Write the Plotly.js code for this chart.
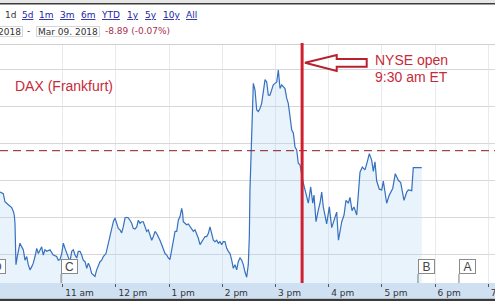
<!DOCTYPE html>
<html><head><meta charset="utf-8">
<script src="https://cdn.plot.ly/plotly-3.0.1.min.js"></script>
<style>html,body{margin:0;padding:0;background:#fff;overflow:hidden}#chart{width:495px;height:301px}</style>
</head><body><div id="chart"></div>
<script>
// ---- data (minutes after midnight CET, index points) ----
const minutes = [585.9,589.3,593.0,594.9,598.7,602.5,604.3,605.4,606.2,607.3,608.8,609.9,611.8,613.8,615.6,617.5,619.4,621.2,623.1,625.0,626.8,628.8,630.7,632.5,634.4,636.3,638.1,640.0,642.0,645.7,649.4,653.2,655.0,657.0,658.9,660.7,662.6,664.5,666.3,668.2,670.2,672.0,673.9,675.8,677.6,679.5,681.4,683.2,685.2,687.1,688.9,690.8,692.7,694.5,696.4,698.3,700.2,702.1,704.0,705.8,708.8,711.4,713.3,715.3,717.1,719.0,720.9,722.7,724.6,726.5,728.3,730.3,732.2,734.0,735.9,737.8,739.6,741.5,743.5,745.3,747.2,749.1,750.9,752.8,754.7,756.5,758.5,760.4,762.2,764.1,766.0,767.8,769.7,771.7,773.5,775.4,777.3,779.1,781.0,782.9,784.7,786.7,788.6,790.4,792.3,794.2,795.3,796.0,797.9,799.8,801.7,803.6,805.5,807.3,809.2,811.1,812.9,814.9,816.8,818.6,820.5,822.4,824.2,826.1,828.0,829.9,831.8,833.7,835.5,837.4,839.3,841.1,843.0,845.0,846.8,848.7,850.6,852.4,854.3,856.2,858.0,860.0,861.9,863.7,865.6,867.5,869.3,870.5,871.2,872.4,873.8,875.0,876.9,878.8,880.6,882.5,884.4,886.2,888.2,890.1,891.9,893.8,895.7,897.5,899.4,901.4,903.2,905.1,907.0,908.8,910.7,912.6,914.4,916.4,918.3,920.1,922.0,923.9,925.7,927.6,929.5,931.4,933.3,935.2,937.0,939.7,942.0,943.4,945.7,948.3,950.2,952.1,953.9,957.7,960.7,963.4,967.1,969.0,971.0,974.7,977.3,979.5,982.1,984.0,986.3,988.5,991.6,995.3,997.9,1000.9,1003.5,1005.8,1008.5,1010.3,1012.2,1014.1,1017.1,1019.8,1021.6,1025.4,1028.3,1032.2,1035.1,1038.5,1041.2,1044.9,1048.0,1049.8,1053.6,1055.4,1064.9];
const prices = [12287,12284,12282,12271,12267,12263,12258,12253,12242,12186,12197,12206,12215,12210,12206,12192,12197,12186,12179,12183,12188,12197,12208,12201,12206,12210,12199,12206,12204,12206,12199,12197,12192,12193,12201,12215,12208,12201,12195,12190,12204,12206,12199,12195,12204,12204,12199,12192,12190,12181,12188,12183,12174,12172,12170,12179,12186,12190,12192,12197,12201,12215,12224,12233,12244,12249,12240,12235,12233,12229,12237,12249,12250,12249,12246,12242,12235,12234,12237,12246,12242,12244,12244,12237,12231,12233,12226,12219,12224,12231,12228,12224,12219,12213,12206,12201,12199,12195,12193,12206,12219,12231,12231,12246,12251,12262,12255,12244,12242,12240,12241,12237,12235,12231,12233,12228,12222,12213,12217,12219,12224,12224,12228,12237,12226,12219,12217,12219,12215,12217,12213,12217,12217,12208,12204,12201,12192,12181,12186,12179,12190,12195,12192,12186,12176,12169,12186,12224,12287,12341,12399,12431,12422,12395,12393,12397,12404,12422,12436,12433,12415,12415,12422,12429,12431,12433,12449,12424,12429,12426,12424,12411,12404,12386,12368,12364,12345,12341,12323,12321,12306,12296,12287,12278,12269,12291,12269,12280,12244,12260,12269,12284,12264,12241,12264,12236,12249,12257,12219,12244,12253,12273,12269,12277,12259,12264,12253,12311,12318,12314,12325,12336,12327,12312,12325,12299,12288,12287,12299,12269,12280,12289,12309,12300,12297,12273,12284,12287,12286,12317,12317];
const prevClose = 12340;
const nyseOpenMinute = 930;
const hourTicks = [660,720,780,840,900,960,1020,1080,1140];
const hourLabels = ['11 am','12 pm','1 pm','2 pm','3 pm','4 pm','5 pm','6 pm','7 pm'];
const priceGrid = [12200,12250,12300,12350,12400,12450];
const flagMinutes = [576.5,658.2,1060.7,1106.9];
const flagLetters = ['D','C','B','A'];
const rangeLinks = ['1d','5d','1m','3m','6m','YTD','1y','5y','10y','All'];
const dateFrom = '2018';
const dateTo = 'Mar 09, 2018';
const changeText = '-8.89 (-0.07%)';
const seriesLabel = 'DAX (Frankfurt)';
const noteLines = ['NYSE open','9:30 am ET'];

// ---- layout helpers ----
const W = 495, H = 301, TOP = 44, BOTTOM = 283;
const px = x => x / W;
const py = y => (BOTTOM - y) / (BOTTOM - TOP);
const xRange = [589.29, 1147.55];
const yRange = [12161.2, 12484.2];
const red = '#c62b3a';
const verd = 'DejaVu Sans';
const arial = 'Liberation Sans, Arial, sans-serif';

const annotations = [];
const linkLeft = [2.5,19.7,37.3,58.3,79,99,125,143.3,161.3,184];
rangeLinks.forEach((t,i) => {
  annotations.push({
    text: i === 0 ? t : '<span style="text-decoration:underline">' + t + '</span>',
    xref:'paper', yref:'paper', x:px(linkLeft[i]), y:py(15.5), xanchor:'left', yanchor:'middle',
    showarrow:false, font:{family:verd, size:9, color: i === 0 ? '#333' : '#2323a8'}
  });
});
annotations.push({text:dateFrom, xref:'paper', yref:'paper', x:px(22.7), y:py(31.5), xanchor:'right', yanchor:'middle',
  showarrow:false, bordercolor:'#d6d6d6', borderwidth:1, borderpad:1, bgcolor:'#fff', height:7,
  font:{family:verd, size:9, color:'#333'}});
annotations.push({text:'-', xref:'paper', yref:'paper', x:px(28.5), y:py(31.5), xanchor:'center', yanchor:'middle',
  showarrow:false, font:{family:verd, size:9, color:'#333'}});
annotations.push({text:dateTo, xref:'paper', yref:'paper', x:px(35.7), y:py(31.5), xanchor:'left', yanchor:'middle',
  showarrow:false, bordercolor:'#d6d6d6', borderwidth:1, borderpad:1, bgcolor:'#fff', height:7, width:60,
  font:{family:verd, size:9, color:'#333'}});
annotations.push({text:changeText, xref:'paper', yref:'paper', x:px(102.5), y:py(31.5), xanchor:'left', yanchor:'middle',
  showarrow:false, font:{family:verd, size:9, color:'#a8324e'}});
annotations.push({text:seriesLabel, xref:'paper', yref:'paper', x:px(12.5), y:py(86), xanchor:'left', yanchor:'middle',
  showarrow:false, font:{family:arial, size:14, color:red}});
annotations.push({text:noteLines[0], xref:'paper', yref:'paper', x:px(372.5), y:py(60), xanchor:'left', yanchor:'middle',
  showarrow:false, font:{family:arial, size:14, color:red}});
annotations.push({text:noteLines[1], xref:'paper', yref:'paper', x:px(372.5), y:py(77), xanchor:'left', yanchor:'middle',
  showarrow:false, font:{family:arial, size:14, color:red}});
flagMinutes.forEach((m,i) => {
  annotations.push({text:flagLetters[i], xref:'paper', yref:'paper',
    x:(m - xRange[0]) / (xRange[1] - xRange[0]), y:py(266.5), xanchor:'left', yanchor:'middle',
    showarrow:false, width:13, height:11, borderpad:1, borderwidth:1, bordercolor:'#8a8a8a', bgcolor:'#fff',
    font:{family:arial, size:12, color:'#444'}});
});

const shapes = [
  {type:'rect', xref:'paper', yref:'paper', x0:0, x1:1, y0:py(0), y1:py(3), fillcolor:'#e6e6e6', line:{width:0}},
  {type:'line', xref:'paper', yref:'paper', x0:0, x1:1, y0:py(3.7), y1:py(3.7), line:{color:'#3c3c3c', width:1.5}},
  {type:'line', xref:'paper', yref:'paper', x0:0, x1:1, y0:py(44.5), y1:py(44.5), line:{color:'#d0d0d0', width:1}},
  {type:'rect', xref:'paper', yref:'paper', x0:0, x1:1, y0:py(298.5), y1:0, fillcolor:'#cfe0f3', line:{width:0}, layer:'below'},
  {type:'rect', xref:'paper', yref:'paper', x0:0, x1:1, y0:py(301.5), y1:py(298.8), fillcolor:'#3a3a3a', line:{width:0}},
  {type:'line', xref:'paper', yref:'y', x0:0, x1:1, y0:prevClose, y1:prevClose, line:{color:'#8c1c1c', width:1, dash:'8px,5px'}},
  {type:'line', xref:'x', yref:'paper', x0:nyseOpenMinute, x1:nyseOpenMinute, y0:0, y1:py(43), line:{color:'#d0202e', width:3}},
  {type:'path', xref:'paper', yref:'paper',
    path:'M '+px(305)+','+py(62.7)+' L '+px(336.7)+','+py(55)+' L '+px(336.7)+','+py(59)+' L '+px(366.7)+','+py(59)+
         ' L '+px(366.7)+','+py(66.7)+' L '+px(336.7)+','+py(66.7)+' L '+px(336.7)+','+py(71)+' Z',
    line:{color:'#b8202e', width:2}, fillcolor:'rgba(255,255,255,0)'}
];
flagMinutes.forEach(m => {
  shapes.push({type:'line', xref:'x', yref:'paper', x0:m, x1:m, y0:py(274), y1:0, line:{color:'#7a7a7a', width:1}});
});

const trace = {
  x: minutes, y: prices, type:'scatter', mode:'lines',
  line:{color:'#3670bf', width:1.2},
  fill:'tozeroy', fillcolor:'rgba(163,207,243,0.25)', hoverinfo:'skip'
};

const layout = {
  width:W, height:H, margin:{l:0, r:0, t:TOP, b:H-BOTTOM, pad:0},
  paper_bgcolor:'#fff', plot_bgcolor:'#fff', showlegend:false,
  xaxis:{range:xRange, tickmode:'array', tickvals:hourTicks, ticktext:hourLabels,
    showgrid:true, gridcolor:'#e9eaf0', gridwidth:1, zeroline:false, showline:false,
    ticks:'outside', ticklen:3, tickcolor:'#555', ticklabelposition:'outside right', ticklabeloverflow:'allow',
    ticklabelshift:2, ticklabelstandoff:1,
    tickfont:{family:verd, size:9, color:'#333'}, fixedrange:true},
  yaxis:{range:yRange, tickmode:'array', tickvals:priceGrid, showticklabels:false,
    showgrid:true, gridcolor:'#d8d8d8', gridwidth:1, zeroline:false, showline:false, ticks:'', fixedrange:true},
  shapes:shapes, annotations:annotations
};

Plotly.newPlot('chart', [trace], layout, {displayModeBar:false, staticPlot:true});
</script></body></html>
